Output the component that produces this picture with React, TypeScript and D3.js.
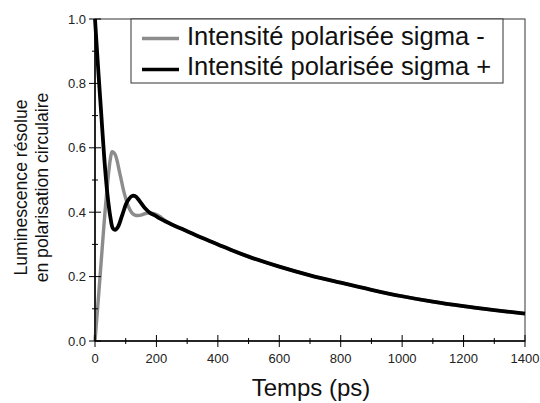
import * as d3 from 'd3';
import React, { ReactElement, useEffect, useRef } from 'react';

const WIDTH = 540;
const HEIGHT = 403;

// temps (ps) et intensités
const timesMinus = [0, 10, 20, 30, 40, 50, 56, 65, 81, 95, 109, 120, 130, 145, 165, 180, 200, 215, 230, 250, 300, 350, 400, 450, 500, 600, 700, 800, 900, 1000, 1100, 1200, 1300, 1400];
const sigmaMinus = [0.0, 0.12, 0.245, 0.37, 0.48, 0.565, 0.588, 0.58, 0.52, 0.46, 0.417, 0.398, 0.391, 0.39, 0.396, 0.398, 0.393, 0.384, 0.373, 0.362, 0.341, 0.32, 0.3, 0.28, 0.262, 0.231, 0.204, 0.181, 0.159, 0.139, 0.122, 0.108, 0.096, 0.085];

const timesPlus = [0, 10, 20, 30, 40, 50, 58, 65, 75, 90, 105, 120, 130, 145, 163, 180, 195, 212, 230, 250, 300, 350, 400, 450, 500, 600, 700, 800, 900, 1000, 1100, 1200, 1300, 1400];
const sigmaPlus = [1.0, 0.85, 0.71, 0.57, 0.46, 0.385, 0.35, 0.345, 0.355, 0.395, 0.433, 0.45, 0.45, 0.435, 0.412, 0.397, 0.39, 0.38, 0.371, 0.362, 0.341, 0.32, 0.3, 0.28, 0.262, 0.231, 0.204, 0.181, 0.159, 0.139, 0.122, 0.108, 0.096, 0.085];

const xTicks = [0, 200, 400, 600, 800, 1000, 1200, 1400];
const xMinor = [100, 300, 500, 700, 900, 1100, 1300];
const yTicks = [0, 0.2, 0.4, 0.6, 0.8, 1.0];
const yMinor = [0.1, 0.3, 0.5, 0.7, 0.9];

const legendLabels = ['Intensité polarisée sigma -', 'Intensité polarisée sigma +'];
const seriesColors = ['#8c8c8c', '#000000'];

const FONT = '"Liberation Sans", Arial, sans-serif';

const Chart = (): ReactElement => {
  const ref = useRef(null);

  useEffect(() => {
    const margin = { left: 95, right: 15, top: 19, bottom: 62 };
    const x = d3.scaleLinear().domain([0, 1400]).range([margin.left, WIDTH - margin.right]);
    const y = d3.scaleLinear().domain([0, 1]).range([HEIGHT - margin.bottom, margin.top]);

    const svg = d3
      .select(ref.current)
      .append('svg')
      .attr('width', WIDTH)
      .attr('height', HEIGHT)
      .style('display', 'block')
      .style('font-family', FONT);

    svg.append('rect').attr('width', WIDTH).attr('height', HEIGHT).attr('fill', '#fff');

    // cadre
    svg
      .append('rect')
      .attr('x', x(0))
      .attr('y', y(1))
      .attr('width', x(1400) - x(0))
      .attr('height', y(0) - y(1))
      .attr('fill', 'none')
      .attr('stroke', '#555')
      .attr('stroke-width', 1.2);

    const line = d3
      .line<[number, number]>()
      .x((d) => x(d[0]))
      .y((d) => y(d[1]))
      .curve(d3.curveCatmullRom.alpha(0.5));

    const series = [
      { t: timesMinus, v: sigmaMinus, color: seriesColors[0], w: 3.4 },
      { t: timesPlus, v: sigmaPlus, color: seriesColors[1], w: 3.8 },
    ];

    series.forEach((s) => {
      const pts = s.t.map((t, i) => [t, s.v[i]] as [number, number]);
      svg
        .append('path')
        .attr('d', line(pts))
        .attr('fill', 'none')
        .attr('stroke', s.color)
        .attr('stroke-width', s.w)
        .attr('stroke-linejoin', 'round');
    });

    // axes
    svg.append('line').attr('x1', x(0)).attr('x2', x(0)).attr('y1', y(0)).attr('y2', y(1)).attr('stroke', '#000').attr('stroke-width', 1.5);
    svg.append('line').attr('x1', x(0)).attr('x2', x(1400)).attr('y1', y(0)).attr('y2', y(0)).attr('stroke', '#000').attr('stroke-width', 1.5);

    const g = svg.append('g').attr('stroke', '#000').attr('stroke-width', 1);
    xTicks.forEach((t) => g.append('line').attr('x1', x(t)).attr('x2', x(t)).attr('y1', y(0) - 6).attr('y2', y(0) + 6));
    xMinor.forEach((t) => g.append('line').attr('x1', x(t)).attr('x2', x(t)).attr('y1', y(0) - 3).attr('y2', y(0) + 3));
    yTicks.forEach((t) => g.append('line').attr('x1', x(0) - 6).attr('x2', x(0) + 6).attr('y1', y(t)).attr('y2', y(t)));
    yMinor.forEach((t) => g.append('line').attr('x1', x(0) - 3).attr('x2', x(0) + 3).attr('y1', y(t)).attr('y2', y(t)));

    svg
      .selectAll('text.xt')
      .data(xTicks)
      .enter()
      .append('text')
      .attr('x', (d) => x(d))
      .attr('y', 363)
      .attr('text-anchor', 'middle')
      .attr('font-size', 13)
      .attr('fill', '#222')
      .text((d) => String(d));

    svg
      .selectAll('text.yt')
      .data(yTicks)
      .enter()
      .append('text')
      .attr('x', 86)
      .attr('y', (d) => y(d) + 4.5)
      .attr('text-anchor', 'end')
      .attr('font-size', 13)
      .attr('fill', '#222')
      .text((d) => d.toFixed(1));

    svg
      .append('text')
      .attr('x', 311)
      .attr('y', 396)
      .attr('text-anchor', 'middle')
      .attr('font-size', 24)
      .attr('fill', '#111')
      .text('Temps (ps)');

    const yl = svg
      .append('text')
      .attr('transform', 'translate(26.5, 187.5) rotate(-90)')
      .attr('text-anchor', 'middle')
      .attr('font-size', 17.6)
      .attr('fill', '#111');
    yl.append('tspan').attr('x', 0).attr('y', 0).text('Luminescence résolue');
    yl.append('tspan').attr('x', 0).attr('y', 21.5).text('en polarisation circulaire');

    // légende
    const lg = svg.append('g');
    lg.append('rect')
      .attr('x', 131)
      .attr('y', 19)
      .attr('width', 372)
      .attr('height', 64)
      .attr('fill', '#fff')
      .attr('stroke', '#333')
      .attr('stroke-width', 1);
    legendLabels.forEach((lab, i) => {
      lg.append('line')
        .attr('x1', 142)
        .attr('x2', 179)
        .attr('y1', 38.5 + i * 31)
        .attr('y2', 38.5 + i * 31)
        .attr('stroke', seriesColors[i])
        .attr('stroke-width', 3.6);
      lg.append('text')
        .attr('x', 187)
        .attr('y', 45 + i * 30)
        .attr('font-size', 25.5)
        .attr('fill', '#111')
        .text(lab);
    });

    return () => {
      d3.select(ref.current).selectAll('svg').remove();
    };
  }, []);

  return <div ref={ref}></div>;
};

export default function App(): ReactElement {
  return (
    <div style={{ position: 'absolute', left: 0, top: 0 }}>
      <Chart />
    </div>
  );
}
